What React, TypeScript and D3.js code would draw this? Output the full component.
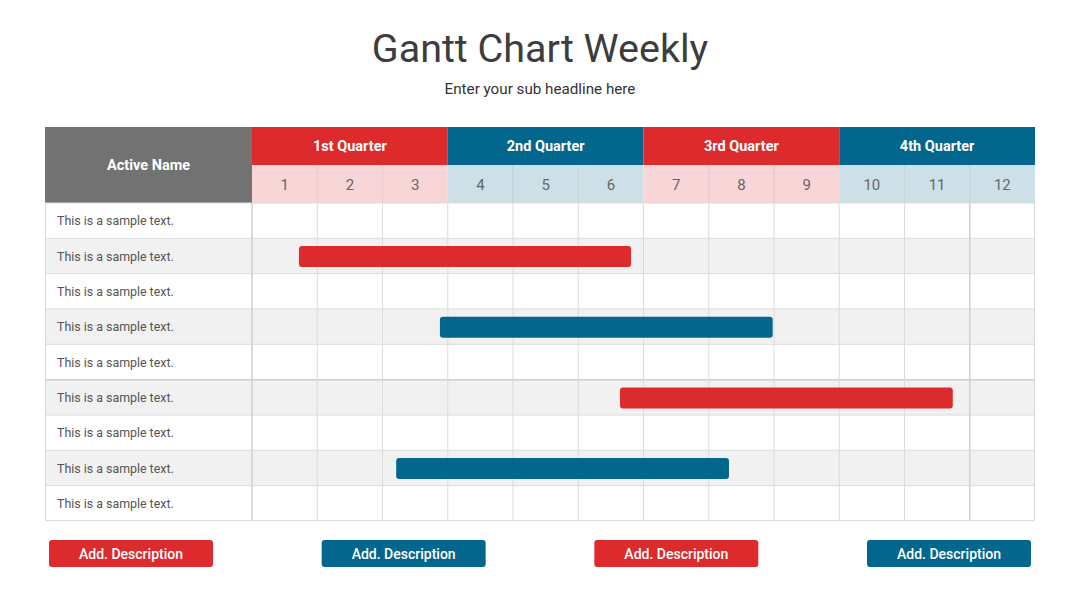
import * as d3 from 'd3';

const title = 'Gantt Chart Weekly';
const subtitle = 'Enter your sub headline here';
const nameHeader = 'Active Name';

const quarters = ['1st Quarter', '2nd Quarter', '3rd Quarter', '4th Quarter'];
const weeks = ['1', '2', '3', '4', '5', '6', '7', '8', '9', '10', '11', '12'];
const rowLabels = [
  'This is a sample text.',
  'This is a sample text.',
  'This is a sample text.',
  'This is a sample text.',
  'This is a sample text.',
  'This is a sample text.',
  'This is a sample text.',
  'This is a sample text.',
  'This is a sample text.',
];

// bars: row index, start/end measured in weeks from the start of week 1
const barRows = [1, 3, 5, 7];
const barStart = [0.72, 2.88, 5.64, 2.21];
const barEnd = [5.81, 7.98, 10.74, 7.31];
const barKind = [0, 1, 0, 1];

const buttonLabels = ['Add. Description', 'Add. Description', 'Add. Description', 'Add. Description'];

const RED = '#dc2a2d';
const BLUE = '#03668c';
const GRAY = '#727272';
const PINK = '#f8d5d6';
const LIGHTBLUE = '#cde0e8';
const GRID = '#dcdcdc';
const FONT = 'Roboto, "Noto Sans", sans-serif';

export default function App() {
  const W = 1080;
  const H = 608;
  const left = 45;
  const nameRight = 252;
  const right = 1035;
  const qTop = 127;
  const wTop = 165;
  const bodyTop = 203;
  const bodyBottom = 521;

  const x = d3.scaleLinear().domain([0, weeks.length]).range([nameRight, right]);
  const y = d3
    .scaleBand<number>()
    .domain(d3.range(rowLabels.length))
    .range([bodyTop, bodyBottom]);
  const btnX = d3.scalePoint<number>().domain(d3.range(buttonLabels.length)).range([131, 949]);
  const kindColor = [RED, BLUE];
  const rowH = y.bandwidth();
  const barH = 21;

  return (
    <div style={{ margin: -8 }}>
      <svg width={W} height={H} style={{ display: 'block', background: '#fff' }}>
        <text x={W / 2} y={62} textAnchor="middle" fontFamily={FONT} fontSize={39.5} fill="#3d3d3d">
          {title}
        </text>
        <text x={W / 2} y={94} textAnchor="middle" fontFamily={FONT} fontSize={15.2} fill="#333">
          {subtitle}
        </text>

        {/* name header */}
        <rect x={left} y={qTop} width={nameRight - left} height={bodyTop - qTop} fill={GRAY} />
        <text
          x={(left + nameRight) / 2}
          y={(qTop + bodyTop) / 2 + 5}
          textAnchor="middle"
          fontFamily={FONT}
          fontWeight={700}
          fontSize={14.5}
          fill="#fff"
        >
          {nameHeader}
        </text>

        {/* quarter headers */}
        {quarters.map((q, i) => (
          <g key={'q' + i}>
            <rect x={x(i * 3)} y={qTop} width={x(3) - x(0)} height={wTop - qTop} fill={kindColor[i % 2]} />
            <text
              x={x(i * 3 + 1.5)}
              y={(qTop + wTop) / 2 + 5}
              textAnchor="middle"
              fontFamily={FONT}
              fontWeight={700}
              fontSize={14.5}
              fill="#fff"
            >
              {q}
            </text>
          </g>
        ))}

        {/* week headers */}
        {weeks.map((w, i) => (
          <g key={'w' + i}>
            <rect
              x={x(i)}
              y={wTop}
              width={x(1) - x(0)}
              height={bodyTop - wTop}
              fill={Math.floor(i / 3) % 2 === 0 ? PINK : LIGHTBLUE}
            />
            <text
              x={x(i + 0.5)}
              y={(wTop + bodyTop) / 2 + 5.5}
              textAnchor="middle"
              fontFamily={FONT}
              fontSize={15}
              fill="#666"
            >
              {w}
            </text>
          </g>
        ))}
        {weeks.slice(1).map((_, i) => (
          <line
            key={'wl' + i}
            x1={x(i + 1)}
            x2={x(i + 1)}
            y1={wTop}
            y2={bodyTop}
            stroke={(i + 1) % 3 === 0 ? 'none' : 'rgba(0,0,0,0.08)'}
          />
        ))}

        {/* body rows */}
        {rowLabels.map((label, i) => (
          <g key={'r' + i}>
            <rect
              x={left}
              y={y(i)}
              width={right - left}
              height={rowH}
              fill={i % 2 === 1 ? '#f1f1f1' : '#fff'}
            />
            <text x={57} y={(y(i) as number) + rowH / 2 + 4.5} fontFamily={FONT} fontSize={12.4} fill="#555">
              {label}
            </text>
          </g>
        ))}

        {/* grid */}
        {d3.range(1, rowLabels.length).map((i) => (
          <line
            key={'h' + i}
            x1={left}
            x2={right}
            y1={y(i)}
            y2={y(i)}
            stroke={i === 5 ? '#cfcfcf' : GRID}
            strokeWidth={i === 5 ? 1.5 : 1}
          />
        ))}
        {d3.range(0, weeks.length).map((i) => (
          <line
            key={'v' + i}
            x1={x(i)}
            x2={x(i)}
            y1={bodyTop}
            y2={bodyBottom}
            stroke={i === 0 || i === 11 ? '#cfcfcf' : GRID}
            strokeWidth={i === 0 || i === 11 ? 1.5 : 1}
          />
        ))}
        <rect
          x={left + 0.5}
          y={bodyTop}
          width={right - left - 1}
          height={bodyBottom - bodyTop - 0.5}
          fill="none"
          stroke={GRID}
        />

        {/* bars */}
        {barRows.map((r, i) => (
          <rect
            key={'b' + i}
            x={x(barStart[i])}
            y={(y(r) as number) + (rowH - barH) / 2 + 0.6}
            width={x(barEnd[i]) - x(barStart[i])}
            height={barH}
            rx={3}
            fill={kindColor[barKind[i]]}
          />
        ))}

        {/* buttons */}
        {buttonLabels.map((b, i) => (
          <g key={'btn' + i}>
            <rect
              x={(btnX(i) as number) - 82}
              y={540}
              width={164}
              height={27}
              rx={3}
              fill={kindColor[i % 2]}
            />
            <text
              x={btnX(i)}
              y={558.5}
              textAnchor="middle"
              fontFamily={FONT}
              fontWeight={500}
              fontSize={14}
              fill="#fff"
            >
              {b}
            </text>
          </g>
        ))}
      </svg>
    </div>
  );
}
